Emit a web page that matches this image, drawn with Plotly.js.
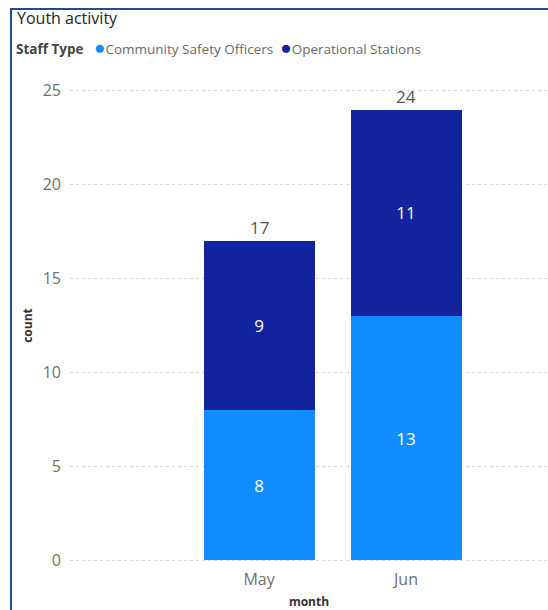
<!DOCTYPE html>
<html>
<head>
<meta charset="utf-8">
<script src="https://cdn.plot.ly/plotly-3.0.1.min.js"></script>
<style>
html,body{margin:0;padding:0;background:#fff;}
#wrap{position:relative;width:548px;height:610px;}
#chart{width:548px;height:610px;}
#bl{position:absolute;left:10px;top:8px;width:2px;height:602px;background:#1c4f8c;}
#bt{position:absolute;left:10px;top:8px;width:538px;height:2px;background:#1c4f8c;}
</style>
</head>
<body>
<div id="wrap"><div id="chart"></div><div id="bl"></div><div id="bt"></div></div>
<script>
const months = ["May", "Jun"];
const legendTitle = "Staff Type";
const seriesNames = ["Community Safety Officers", "Operational Stations"];
const communitySafety = [8, 13];
const operationalStations = [9, 11];
const colors = ["#118DFF", "#12239E"];
const yTicks = [0, 5, 10, 15, 20, 25];

const FONT = '"Segoe UI", "Open Sans", "Noto Sans", sans-serif';
const totals = months.map((m, i) => communitySafety[i] + operationalStations[i]);

const barCommon = {
  type: 'bar', x: months, showlegend: false,
  textposition: 'inside', insidetextanchor: 'middle',
  texttemplate: '%{y}',
  textfont: {family: FONT, size: 17, color: '#ffffff'},
  hoverinfo: 'x+y+name'
};

const traces = [
  Object.assign({}, barCommon, {name: seriesNames[0], y: communitySafety, marker: {color: colors[0]}}),
  Object.assign({}, barCommon, {name: seriesNames[1], y: operationalStations, marker: {color: colors[1]}})
];

const annotations = months.map((m, i) => ({
  x: m, y: totals[i], xref: 'x', yref: 'y', text: String(totals[i]),
  showarrow: false, yanchor: 'bottom', yshift: 0,
  font: {family: FONT, size: 17, color: '#555555'}
}));

// legend drawn as a text row, like the original's "Staff Type ● A ● B"
const legendText = '<b><span style="color:#444444">' + legendTitle + '</span></b>   ' +
  seriesNames.map((n, i) => '<span style="color:' + colors[i] + ';font-size:19px">●</span>' + n).join('  ');
annotations.push({
  xref: 'paper', yref: 'paper', x: (14 - 70) / 478, y: 1 + (89 - 47) / 473,
  xanchor: 'left', yanchor: 'middle', showarrow: false, align: 'left',
  text: legendText, font: {family: FONT, size: 13.5, color: '#6a6a6a'}
});

const layout = {
  width: 548, height: 610,
  margin: {l: 70, r: 0, t: 89, b: 48, pad: 0},
  paper_bgcolor: '#ffffff', plot_bgcolor: '#ffffff',
  font: {family: FONT},
  barmode: 'stack',
  bargap: 0.245,
  showlegend: false,
  title: {
    text: 'Youth activity', x: 17/548, xanchor: 'left', xref: 'container',
    y: 1 - 18/610, yref: 'container', yanchor: 'middle',
    font: {family: FONT, size: 16, color: '#252423'}
  },
  xaxis: {
    type: 'category', range: [-1.286, 1.966], fixedrange: true,
    showgrid: false, zeroline: false, showline: false, ticks: '',
    tickfont: {family: FONT, size: 16, color: '#707070'},
    ticklabelstandoff: 6,
    title: {text: '<b>month</b>', font: {family: FONT, size: 12, color: '#333333'}, standoff: 10}
  },
  yaxis: {
    range: [-0.1, 25.1], tickvals: yTicks, fixedrange: true,
    showgrid: true, gridcolor: '#d9d9d9', griddash: 'dot', gridwidth: 1,
    zeroline: false, showline: false, ticks: '',
    tickfont: {family: FONT, size: 16, color: '#707070'},
    ticklabelstandoff: 8,
    title: {text: '<b>count</b>', font: {family: FONT, size: 12, color: '#333333'}, standoff: 7}
  },
  annotations: annotations
};

Plotly.newPlot('chart', traces, layout, {displayModeBar: false});
</script>
</body>
</html>
